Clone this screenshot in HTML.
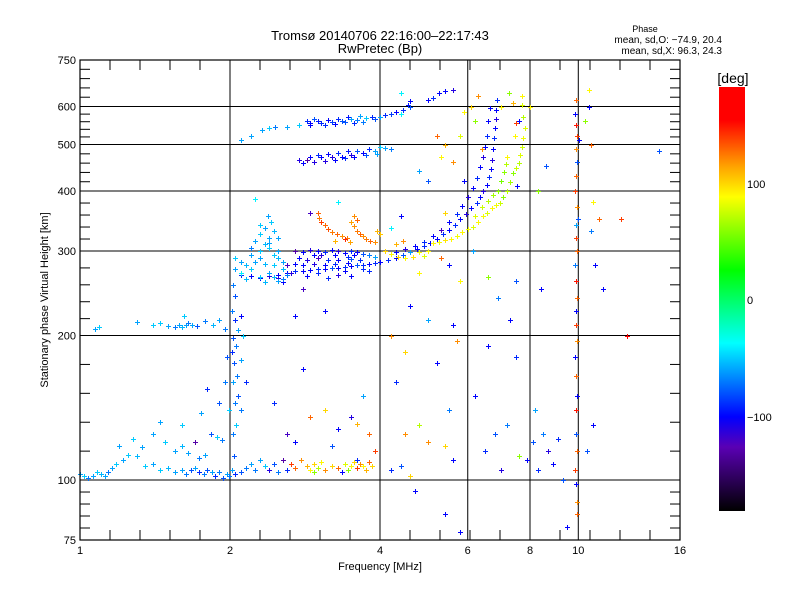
<!DOCTYPE html>
<html><head><meta charset="utf-8"><style>
html,body{margin:0;padding:0;background:#fff;}
svg text{font-family:"Liberation Sans",sans-serif;fill:#000;}
</style></head><body>
<svg id="chart" width="800" height="600" viewBox="0 0 800 600" xmlns="http://www.w3.org/2000/svg">
<defs>
<linearGradient id="cbar" x1="0" y1="0" x2="0" y2="1">
<stop offset="0" stop-color="#ff0000"/><stop offset="0.078" stop-color="#ff0000"/>
<stop offset="0.189" stop-color="#ffa500"/><stop offset="0.259" stop-color="#ffff00"/>
<stop offset="0.432" stop-color="#00ff00"/><stop offset="0.604" stop-color="#00ffff"/>
<stop offset="0.778" stop-color="#0000ff"/><stop offset="0.849" stop-color="#5a00b4"/>
<stop offset="1" stop-color="#000000"/>
</linearGradient>
</defs>
<text x="380" y="40" font-size="13" text-anchor="middle">Tromsø 20140706 22:16:00–22:17:43</text>
<text x="380" y="53" font-size="13" text-anchor="middle">RwPretec (Bp)</text>
<text x="645" y="32" font-size="9" text-anchor="middle">Phase</text>
<text x="722" y="43" font-size="10" text-anchor="end">mean, sd,O: −74.9, 20.4</text>
<text x="722" y="54" font-size="10" text-anchor="end">mean, sd,X:  96.3, 24.3</text>
<g id="grid"></g>
<g id="points"></g>
<g id="axes"></g>
<rect x="80" y="60" width="600" height="480" fill="none" stroke="#000" stroke-width="1.2"/>
<text x="380" y="570" font-size="11" text-anchor="middle">Frequency [MHz]</text>
<text x="48" y="300" font-size="11" text-anchor="middle" transform="rotate(-90 48 300)">Stationary phase Virtual Height [km]</text>
<rect x="719" y="87" width="26" height="424" fill="url(#cbar)"/>
<text x="733" y="83" font-size="14" text-anchor="middle">[deg]</text>
<text x="747" y="188" font-size="11">100</text>
<text x="747" y="304" font-size="11">0</text>
<text x="747" y="421" font-size="11">−100</text>
</svg>
<script>
const xTickValues = [1, 2, 4, 6, 8, 10, 16];
const xGridValues = [2, 4, 6, 8, 10];
const yTickValues = [75, 100, 200, 300, 400, 500, 600, 750];
const yGridValues = [100, 200, 300, 400, 500, 600];

const trace560 = [[2.1,510,-60],[2.2,520,-60],[2.32,535,-60],[2.4,540,-50],[2.46,545,-70],[2.6,545,-60],[2.75,548,-50],[2.85,560,-90],[2.9,555,-100],[2.95,565,-80],[3.0,560,-95],[3.05,555,-90],[3.15,562,-100],[3.2,558,-85],[3.3,565,-90],[3.35,560,-80],[3.45,570,-95],[3.5,565,-60],[3.6,562,-70],[3.65,572,-60],[3.75,568,-50],[3.85,570,-90],[3.9,565,-80],[4.1,575,-90],[4.2,580,-85],[4.3,585,-100],[4.45,590,-90],[4.55,605,-95],[4.6,598,-80],[5.0,620,-100],[5.1,625,-90],[5.25,640,-100],[5.4,645,-100],[5.6,650,-110],[2.9,548,-100],[3.1,550,-90],[3.25,552,-100],[3.4,556,-80],[3.55,555,-90],[3.7,558,-70],[4.0,570,-60],[4.4,580,-40]];
const trace480 = [[2.75,465,-110],[2.8,458,-100],[2.86,465,-130],[2.9,470,-100],[2.95,460,-110],[3.0,475,-90],[3.05,470,-100],[3.15,478,-100],[3.2,470,-110],[3.3,480,-90],[3.35,472,-100],[3.45,485,-95],[3.5,475,-110],[3.6,485,-80],[3.7,480,-100],[3.8,490,-90],[3.9,485,-60],[4.0,495,-50],[4.1,492,-60],[4.2,490,-70],[3.1,462,-110],[3.25,465,-100],[3.4,468,-90],[3.55,470,-100],[3.75,475,-80],[3.95,478,-60]];
const oTraceA = [[2.1,268,-90],[2.2,266,-100],[2.3,264,-100],[2.4,266,-110],[2.5,268,-100],[2.6,270,-100],[2.7,272,-90],[2.8,272,-100],[2.9,274,-100],[3.0,275,-90],[3.1,275,-100],[3.2,276,-80],[3.3,277,-100],[3.4,278,-90],[3.5,279,-100],[3.6,280,-80],[3.7,281,-90],[3.8,282,-100],[3.9,283,-90],[4.0,284,-100],[4.15,287,-90],[4.3,290,-100],[4.45,295,-80],[4.6,299,-60],[4.75,303,-100],[4.9,307,-90],[5.05,312,-100],[5.2,318,-100],[5.35,325,-90],[5.5,332,-100],[5.65,340,-90],[5.8,350,-100],[5.95,358,-110],[6.1,368,-100],[6.25,378,-90],[6.35,388,-100],[6.45,400,-110],[6.55,412,-100],[6.62,428,-90],[6.68,445,-100],[6.72,465,-110],[6.75,490,-100],[6.78,515,-90],[6.8,540,-100],[6.83,565,-110],[6.85,590,-100],[6.87,620,-90]];
const oTraceB = [[4.3,298,-100],[4.5,303,-110],[4.7,308,-100],[4.9,314,-90],[5.1,322,-100],[5.3,332,-120],[5.5,345,-100],[5.7,358,-90],[5.85,372,-100],[6.0,388,-110],[6.15,405,-100],[6.25,425,-90],[6.35,448,-100],[6.45,470,-110],[6.5,495,-100],[6.55,520,-90],[6.6,560,-100],[6.65,595,-100]];
const oBand300 = [[2.7,300,-130],[2.8,298,-100],[2.9,302,-110],[3.0,300,-100],[3.1,298,-90],[3.2,302,-100],[3.3,300,-110],[3.4,297,-100],[3.5,300,-90],[3.6,298,-100],[3.7,296,-80],[3.8,294,-70],[3.9,292,-60],[2.75,290,-100],[2.85,288,-110],[3.0,290,-120],[3.15,288,-90],[3.3,287,-100],[3.5,289,-80],[3.65,287,-90],[2.6,280,-120],[2.7,282,-100],[3.0,270,-90],[3.3,268,-110],[3.5,266,-100],[3.8,272,-90],[2.5,264,-110],[2.55,258,-100],[2.95,295,-100],[3.05,294,-110],[3.25,294,-100],[3.45,292,-90],[3.55,294,-100],[2.8,280,-100],[2.95,282,-110],[3.1,280,-100],[3.25,282,-90],[3.45,283,-100],[3.7,275,-90],[2.65,270,-110],[2.85,266,-100],[3.15,264,-90],[3.4,272,-100]];
const cyanCluster = [[2.05,290,-50],[2.1,285,-60],[2.15,280,-55],[2.05,275,-60],[2.1,270,-40],[2.2,295,-60],[2.3,300,-50],[2.35,310,-55],[2.4,320,-60],[2.45,330,-55],[2.35,335,-60],[2.3,325,-50],[2.25,315,-60],[2.4,305,-50],[2.5,300,-60],[2.5,290,-55],[2.45,280,-50],[2.4,270,-60],[2.3,265,-50],[2.35,258,-55],[2.5,260,-60],[2.55,262,-70],[2.42,345,-50],[2.38,355,-60],[2.2,305,-70],[2.25,285,-60],[2.55,275,-55],[2.6,268,-70],[2.15,262,-55],[2.3,290,-60],[2.35,282,-55],[2.45,295,-50],[2.4,312,-60],[2.3,340,-50],[2.5,320,-60],[2.2,275,-50],[2.45,265,-55],[2.55,285,-60]];
const orangeArc = [[3.0,360,130],[3.02,352,125],[3.05,345,140],[3.1,340,130],[3.15,333,135],[3.2,328,125],[3.28,325,130],[3.35,322,120],[3.43,320,125],[3.5,345,115],[3.55,338,120],[3.6,330,125],[3.65,325,130],[3.7,322,120],[3.75,318,125],[3.82,315,130],[3.9,313,120],[3.95,330,110],[4.0,325,105],[3.55,355,120],[3.6,348,130],[3.4,318,145],[3.25,315,110],[3.48,313,115],[4.1,300,100],[4.2,296,90],[4.35,292,100],[4.5,290,90],[4.65,292,95],[4.8,298,85],[4.9,293,80],[5.0,300,90],[4.3,310,110],[4.45,315,120]];
const xTrace = [[5.1,312,90],[5.25,314,85],[5.4,316,95],[5.55,318,90],[5.7,322,85],[5.85,328,90],[6.0,333,85],[6.14,337,80],[6.3,345,90],[6.45,355,85],[6.56,360,80],[6.7,368,90],[6.85,374,85],[6.96,377,75],[7.05,388,60],[7.2,400,70],[7.3,418,65],[7.4,436,60],[7.5,446,75],[7.6,458,70],[7.65,475,80],[7.7,493,75],[7.75,515,85],[7.8,540,80],[7.75,570,70],[7.72,605,80],[7.7,630,90],[6.2,355,80],[6.4,370,75],[6.6,382,70],[6.75,392,65],[6.9,400,60],[7.0,420,55],[7.1,438,60],[7.15,455,70],[7.2,470,90]];
const vertical2 = [[2.02,105,-60],[2.04,112,-80],[2.03,125,-70],[2.06,130,-50],[2.05,145,-70],[2.08,150,-80],[2.03,160,-60],[2.07,165,-70],[2.04,175,-80],[2.1,178,-60],[2.02,185,-90],[2.06,190,-70],[2.03,198,-80],[2.08,205,-60],[2.05,215,-90],[2.02,225,-70],[2.1,220,-100],[2.12,200,-50],[2.15,160,-90],[2.1,140,-70],[2.05,242,-80],[2.03,255,-70]];
const trace210 = [[1.07,206,-60],[1.09,208,-50],[1.4,210,-50],[1.45,212,-50],[1.5,209,-60],[1.55,208,-70],[1.58,210,-60],[1.6,208,-55],[1.63,210,-60],[1.65,212,-70],[1.68,210,-60],[1.72,209,-80],[1.78,214,-70],[1.85,210,-55],[1.9,215,-60],[1.95,206,-70],[1.62,220,-50],[1.3,213,-60]];
const lowCluster = [[1.0,103,-60],[1.02,102,-50],[1.04,101,-70],[1.06,102,-60],[1.08,104,-50],[1.1,103,-55],[1.12,102,-60],[1.14,104,-70],[1.16,106,-60],[1.18,108,-50],[1.22,110,-60],[1.25,113,-50],[1.3,112,-55],[1.35,107,-50],[1.4,108,-60],[1.45,105,-50],[1.5,106,-55],[1.55,104,-60],[1.6,105,-60],[1.63,103,-70],[1.67,105,-80],[1.7,106,-60],[1.73,104,-90],[1.77,103,-70],[1.8,105,-80],[1.84,104,-60],[1.87,102,-90],[1.9,104,-70],[1.94,101,-80],[1.97,103,-60],[1.99,102,-70],[1.2,118,-60],[1.28,122,-50],[1.33,117,-60],[1.4,125,-60],[1.48,120,-50],[1.55,115,-60],[1.6,118,-55],[1.65,114,-60],[1.7,120,-130],[1.73,111,-70],[1.78,113,-60],[1.83,125,-80],[1.88,123,-50],[1.93,121,-70],[1.45,132,-60],[1.6,130,-50],[1.75,138,-60],[1.9,145,-80],[1.95,160,-70],[1.8,155,-90],[1.99,140,-50],[1.97,180,-80],[2.05,103,-90],[2.1,104,-80],[2.15,106,-70],[2.2,108,-60],[2.25,105,-70],[2.3,110,-60],[2.35,107,-50],[2.4,105,-110],[2.45,108,-80],[2.5,104,-70],[2.55,110,-130],[2.6,105,-90]];
const lowWarm = [[2.65,108,140],[2.7,106,130],[2.78,110,120],[2.85,107,110],[2.9,105,90],[2.95,108,100],[3.0,106,70],[3.05,109,90],[3.1,105,120],[3.2,107,100],[3.3,106,130],[3.4,108,80],[3.45,105,60],[3.5,107,90],[3.55,109,100],[3.6,106,140],[3.65,108,120],[3.7,107,90],[3.75,105,110],[3.8,109,130],[3.85,107,100],[2.95,104,60],[3.35,104,-100],[3.6,110,-90],[2.6,125,-120],[2.7,120,-100],[2.9,135,130],[3.1,140,100],[3.3,128,-100],[3.5,135,-110],[3.6,131,110],[3.2,118,-80],[3.8,125,130],[3.9,115,140],[3.7,150,-60],[2.45,145,-90],[2.8,170,-100]];
const scatterMid = [[4.2,105,-90],[4.4,107,-80],[4.6,102,100],[4.5,125,120],[4.8,130,70],[5.0,120,120],[5.4,118,100],[5.6,110,-100],[5.5,140,-70],[4.3,160,-90],[4.5,185,100],[5.2,175,-100],[5.7,195,120],[5.4,85,-100],[5.8,78,-100],[4.7,95,-100],[4.2,200,120],[4.6,230,-100],[5.0,215,-60],[5.8,260,90],[5.6,210,-100],[4.8,270,90],[6.2,150,-100],[6.5,115,-90],[6.8,125,-80],[7.0,105,-110],[7.2,130,-70],[7.5,180,-90],[7.3,215,-100],[7.6,112,60],[6.6,190,-100],[6.9,240,-70],[7.9,110,-100],[8.1,120,-80],[8.3,105,-90],[8.5,125,-70],[8.7,115,-110],[8.9,108,-100],[9.1,122,-90],[8.2,140,-60],[8.6,450,-80],[8.3,400,60],[8.0,600,90],[8.4,250,-100],[9.3,100,-80],[9.5,80,-100]];
const vertical10 = [[9.9,620,130],[9.85,580,-100],[9.9,550,150],[9.95,520,140],[9.88,490,120],[9.92,460,-80],[9.9,430,130],[9.85,400,140],[9.92,370,120],[9.9,340,-60],[9.88,320,140],[9.95,300,130],[9.85,280,-70],[9.9,260,150],[9.92,240,130],[9.88,225,-100],[9.9,210,140],[9.95,195,120],[9.85,180,-100],[9.9,165,130],[9.92,150,-100],[9.88,140,150],[9.9,125,-80],[9.95,115,130],[9.85,105,140],[9.9,98,-100],[9.92,90,120],[9.95,85,130],[10.0,350,-80],[10.05,510,-100]];
const scatterRight = [[10.5,650,90],[10.5,600,-100],[10.6,500,130],[10.7,380,90],[10.6,330,-70],[10.8,280,-100],[10.7,130,-100],[10.4,115,-80],[11.0,350,130],[12.2,350,140],[12.5,200,170],[14.5,485,-80],[11.2,250,-100],[10.3,560,60]];
const scatterTop = [[4.4,640,-40],[4.6,615,-100],[5.0,420,-80],[4.8,440,-60],[5.3,470,90],[5.6,460,120],[5.2,520,130],[5.4,500,110],[5.8,520,80],[6.2,560,60],[5.9,585,90],[6.3,630,120],[6.1,600,100],[6.4,490,120],[7.25,640,60],[7.4,610,110],[7.5,555,140],[7.45,520,90],[7.0,600,90],[7.6,560,-100],[7.55,410,-100],[6.15,300,-60],[5.3,290,130],[5.5,280,-100],[6.6,265,60],[7.5,260,-80],[5.4,360,100],[5.9,420,-100],[4.2,335,-40],[4.4,355,-100],[3.1,225,-100],[2.8,250,-120],[3.3,380,-40],[2.25,385,-40],[2.7,220,-100],[2.9,360,-120]];

const NS = 'http://www.w3.org/2000/svg';
const X0 = 80, X1 = 680, Y0 = 540, Y1 = 60;
function xScale(f) { return X0 + (X1 - X0) * Math.log(f / 1) / Math.log(16); }
function yScale(h) { return Y0 - (Y0 - Y1) * Math.log(h / 75) / Math.log(10); }
const cStops = [[-181,0,0,0],[-126,90,0,180],[-100,0,0,255],[-37,0,255,255],[26,0,255,0],[88,255,255,0],[114,255,165,0],[155,255,0,0],[183,255,0,0]];
function phaseColor(p) {
  if (p <= cStops[0][0]) return 'rgb(0,0,0)';
  for (let i = 1; i < cStops.length; i++) {
    if (p <= cStops[i][0]) {
      const a = cStops[i-1], b = cStops[i], t = (p - a[0]) / (b[0] - a[0]);
      return 'rgb(' + [1,2,3].map(k => Math.round(a[k] + (b[k]-a[k]) * t)).join(',') + ')';
    }
  }
  return 'rgb(255,0,0)';
}
function mk(tag, attrs, parent) {
  const el = document.createElementNS(NS, tag);
  for (const k in attrs) el.setAttribute(k, attrs[k]);
  parent.appendChild(el);
  return el;
}
const grid = document.getElementById('grid');
const axes = document.getElementById('axes');
const pts = document.getElementById('points');

xGridValues.forEach(v => {
  const x = xScale(v);
  const l = mk('line', {x1: x, x2: x, y1: Y1, y2: Y0, stroke: '#000', 'stroke-width': 1}, grid);
  
  
});
yGridValues.forEach(v => {
  const y = yScale(v);
  const l = mk('line', {x1: X0, x2: X1, y1: y, y2: y, stroke: '#000', 'stroke-width': 1}, grid);
  
  
});
for (let x = X0 + 30; x < X1; x += 30) {
  [[Y0, Y0 - 10], [Y1, Y1 + 10]].forEach(([a, b]) => {
    const t = mk('line', {x1: x, x2: x, y1: a, y2: b, stroke: '#000', 'stroke-width': 1}, axes);
    
    
  });
}
for (let i = 0; i < yTickValues.length - 1; i++) {
  const ya = yScale(yTickValues[i]), yb = yScale(yTickValues[i+1]);
  for (let k = 1; k < 5; k++) {
    const y = ya + (yb - ya) * k / 5;
    [[X0, X0 + 10], [X1, X1 - 10]].forEach(([a, b]) => {
      const t = mk('line', {x1: a, x2: b, y1: y, y2: y, stroke: '#000', 'stroke-width': 1}, axes);
      
      
    });
  }
}
xTickValues.forEach(v => {
  const t = mk('text', {x: xScale(v), y: 554, 'font-size': 11, 'text-anchor': 'middle'}, axes);
  t.textContent = String(v);
  
  
});
yTickValues.forEach(v => {
  const t = mk('text', {x: 76, y: yScale(v) + 4, 'font-size': 11, 'text-anchor': 'end'}, axes);
  t.textContent = String(v);
  
  
});

const groups = [trace560, trace480, oTraceA, oTraceB, oBand300, cyanCluster, orangeArc, xTrace, vertical2, trace210, lowCluster, lowWarm, scatterMid, vertical10, scatterRight, scatterTop];
groups.forEach(g => g.forEach(([f, h, p]) => {
  const x = Math.round(xScale(f)), y = Math.round(yScale(h));
  const d = 'M' + (x-2) + ' ' + y + 'h5v1h-5z' + 'M' + x + ' ' + (y-2) + 'h1v5h-1z';
  const m = mk('path', {d: d, fill: phaseColor(p), stroke: 'none'}, pts);
  
  
}));
</script>
</body></html>
